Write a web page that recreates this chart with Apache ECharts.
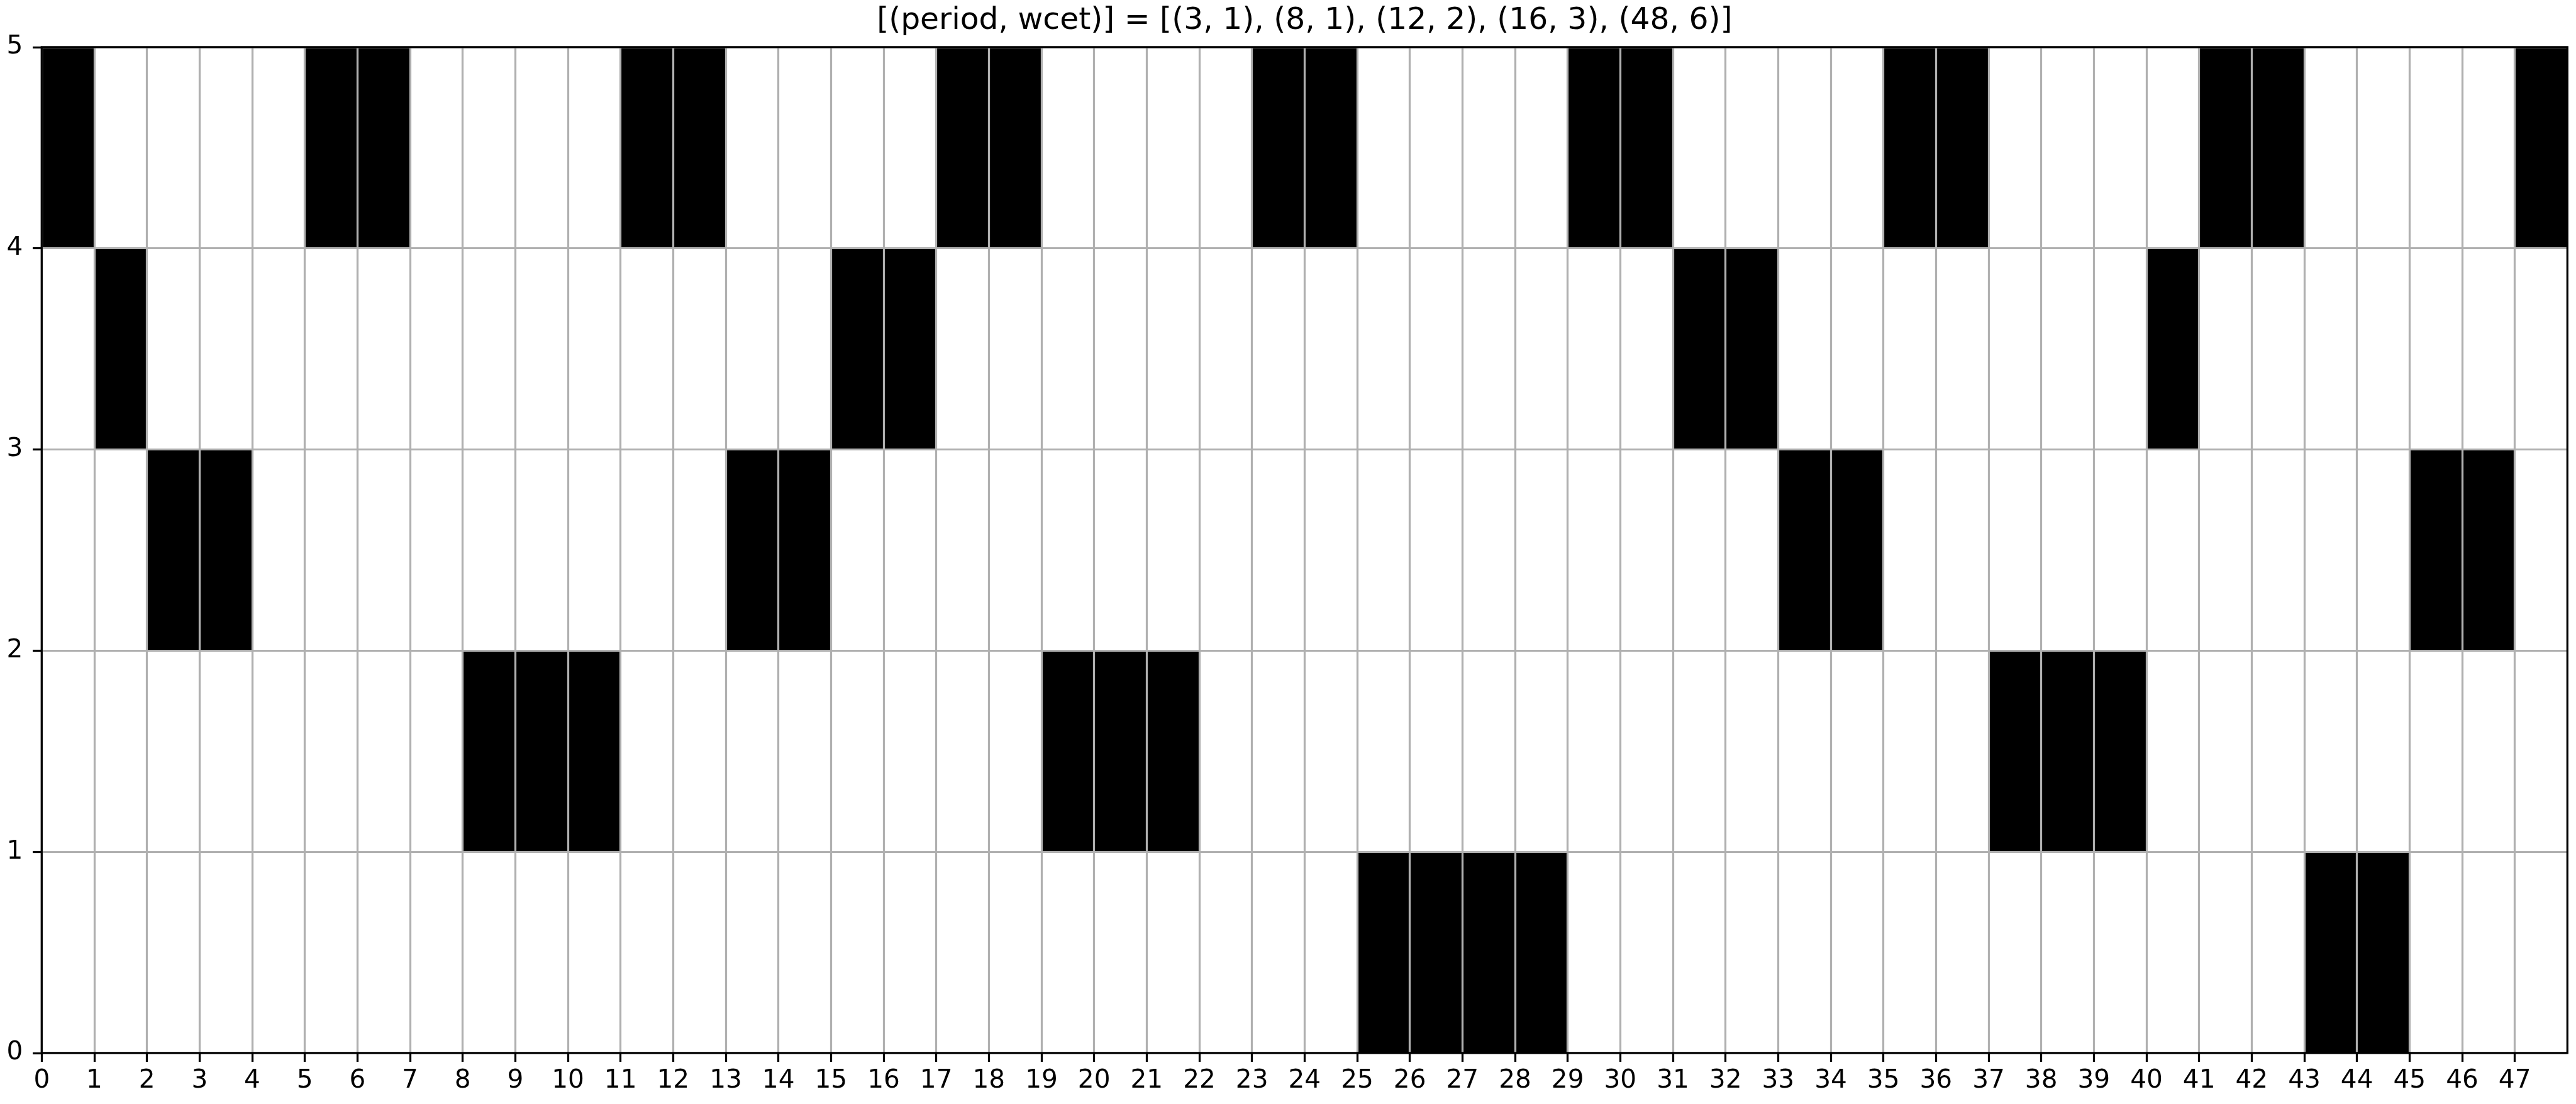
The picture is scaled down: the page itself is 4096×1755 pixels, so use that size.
<!DOCTYPE html>
<html>
<head>
<meta charset="utf-8">
<script src="https://cdn.jsdelivr.net/npm/echarts@6/dist/echarts.min.js"></script>
<style>
html, body { margin: 0; padding: 0; background: #fff; }
#chart { width: 4096px; height: 1755px; }
</style>
</head>
<body>
<div id="chart"></div>
<script>
// ---- Data ----
const titleText = '[(period, wcet)] = [(3, 1), (8, 1), (12, 2), (16, 3), (48, 6)]';
const xTickLabels = [0,1,2,3,4,5,6,7,8,9,10,11,12,13,14,15,16,17,18,19,20,21,22,23,24,25,26,27,28,29,30,31,32,33,34,35,36,37,38,39,40,41,42,43,44,45,46,47];
const yTickLabels = [0,1,2,3,4,5];
// time slots occupied by each task (row = lower y edge of its band)
const task1Slots = [0,5,6,11,12,17,18,23,24,29,30,35,36,41,42,47]; // (3,1)  row 4
const task2Slots = [1,15,16,31,32,40];                               // (8,1)  row 3
const task3Slots = [2,3,13,14,33,34,45,46];                          // (12,2) row 2
const task4Slots = [8,9,10,19,20,21,37,38,39];                       // (16,3) row 1
const task5Slots = [25,26,27,28,43,44];                              // (48,6) row 0
const taskRows = [4,3,2,1,0];

// ---- Chart ----
const S = 0.975;
const chart = echarts.init(document.getElementById('chart'), null, {renderer: 'canvas'});
const fontName = 'DejaVu Sans';

function renderCell(params, api) {
  const x = api.value(0), y = api.value(1);
  const p0 = api.coord([x, y + 1]);
  const p1 = api.coord([x + 1, y]);
  return {
    type: 'rect',
    shape: {x: p0[0], y: p0[1], width: p1[0] - p0[0], height: p1[1] - p0[1]},
    style: {fill: '#000'}
  };
}

const allTasks = [task1Slots, task2Slots, task3Slots, task4Slots, task5Slots];

const gLeft = 68 * S, gRight = 4187 * S, gTop = 76.7 * S, gBottom = 1716.7 * S;

chart.setOption({
  animation: false,
  backgroundColor: '#fff',
  graphic: [{
    type: 'text',
    x: 2127.5 * S,
    y: 34.5 * S,
    style: {
      text: titleText,
      font: (50 * S) + 'px "DejaVu Sans"',
      fill: '#000',
      textAlign: 'center',
      textVerticalAlign: 'middle'
    }
  }],
  grid: {
    left: gLeft,
    right: 4096 - gRight,
    top: gTop,
    bottom: 1755 - gBottom,
    show: true,
    borderColor: '#000',
    borderWidth: 3.33 * S,
    backgroundColor: 'transparent',
    z: 10
  },
  xAxis: {
    type: 'value',
    min: 0, max: 48, interval: 1,
    z: 5,
    axisLine: {show: false},
    axisTick: {show: true, length: 14.6 * S, customValues: xTickLabels,
      lineStyle: {color: '#000', width: 3.33 * S}},
    axisLabel: {customValues: xTickLabels, fontSize: 41.67 * S, fontFamily: fontName, color: '#000', margin: 24},
    splitLine: {show: true, lineStyle: {color: '#b0b0b0', width: 3.33 * S}}
  },
  yAxis: {
    type: 'value',
    min: 0, max: 5, interval: 1,
    z: 5,
    axisLine: {show: false},
    axisTick: {show: true, length: 14.6 * S, customValues: yTickLabels,
      lineStyle: {color: '#000', width: 3.33 * S}},
    axisLabel: {customValues: yTickLabels, fontSize: 41.67 * S, fontFamily: fontName, color: '#000', margin: 30},
    splitLine: {show: true, lineStyle: {color: '#b0b0b0', width: 3.33 * S}}
  },
  series: allTasks.map((slots, k) => ({
    type: 'custom',
    renderItem: renderCell,
    z: 2,
    data: slots.map(s => [s, taskRows[k]])
  }))
});
</script>
</body>
</html>
